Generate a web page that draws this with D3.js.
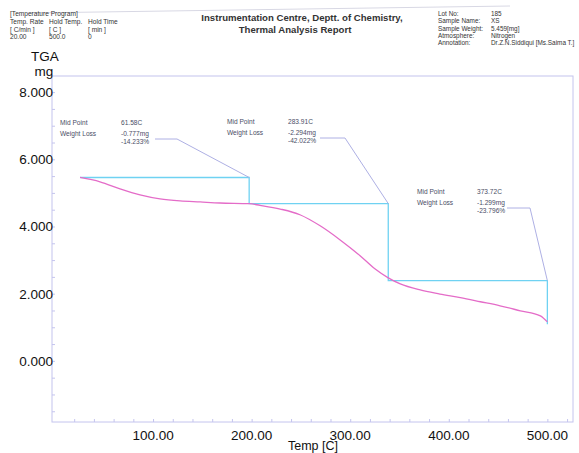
<!DOCTYPE html>
<html><head><meta charset="utf-8">
<script src="https://cdn.jsdelivr.net/npm/d3@7"></script>
<style>body{margin:0;background:#fff}svg{display:block;font-family:"Liberation Sans",Arial,sans-serif}</style>
</head><body><svg id="c" width="579" height="453"></svg>
<script>
// Data
const tempC = [26,46.2,66.5,86.8,107.1,127.4,147.7,168,197.5,208.6,229,249,269.5,289.8,310,325,338.6,350.8,371,391,411.7,432,452,472.6,492.9,500];
const massMg = [5.459,5.33,5.12,4.94,4.82,4.76,4.73,4.70,4.68,4.63,4.52,4.35,4.02,3.60,3.13,2.74,2.47,2.29,2.11,1.99,1.88,1.76,1.64,1.49,1.34,1.16];
const stepTemp = [26,197.5,338.6,500];
const stepLevel = [5.459,4.682,2.388,1.089];
const midPoints = ["61.58C","283.91C","373.72C"];
const lossMg = ["-0.777mg","-2.294mg","-1.299mg"];
const lossPct = ["-14.233%","-42.022%","-23.796%"];
const yTicks = [0,2,4,6,8];
const xTicks = [100,200,300,400,500];

const svg = d3.select("#c");
const L=52,R=573,T=76,B=422;
const x = d3.scaleLinear().domain([-2.5,526]).range([L,R]);
const y = d3.scaleLinear().domain([-1.82,8.48]).range([B,T]);
const axisCol="#c4c4ee";

// header lines
svg.append("line").attr("x1",30).attr("y1",13).attr("x2",510).attr("y2",6).attr("stroke","#d8d8e4").attr("stroke-width",1);

const hdr = svg.append("g").attr("font-size",6.6).attr("fill","#333");
hdr.append("text").attr("x",10).attr("y",16).text("[Temperature Program]");
[["Temp. Rate","Hold Temp.","Hold Time"],["[ C/min ]","[  C ]","[ min ]"],["20.00","500.0","0"]].forEach((row,i)=>{
  row.forEach((t,j)=>hdr.append("text").attr("x",[10,49,88][j]).attr("y",24+i*7.5).text(t));
});
const ttl = svg.append("g").attr("font-size",9.6).attr("font-weight","bold").attr("fill","#333").attr("text-anchor","middle");
ttl.append("text").attr("x",302).attr("y",21).text("Instrumentation Centre, Deptt. of Chemistry,");
ttl.append("text").attr("x",295).attr("y",33).text("Thermal Analysis Report");
const info = svg.append("g").attr("font-size",6.4).attr("fill","#333");
[["Lot No:","185"],["Sample Name:","XS"],["Sample Weight:","5.459[mg]"],["Atmosphere:","Nitrogen"],["Annotation:","Dr.Z.N.Siddiqui [Ms.Saima T.]"]].forEach((r,i)=>{
  info.append("text").attr("x",438).attr("y",16+i*7.3).text(r[0]);
  info.append("text").attr("x",491).attr("y",16+i*7.3).text(r[1]);
});

// frame
svg.append("rect").attr("x",L).attr("y",T).attr("width",R-L).attr("height",B-T).attr("fill","none").attr("stroke",axisCol).attr("stroke-width",1);

// axes
const yAx = svg.append("g").attr("transform",`translate(${L},0)`)
  .call(d3.axisRight(y).tickValues(d3.range(-1.5,8.5,0.5)).tickSize(3).tickFormat(""));
yAx.select(".domain").remove();
yAx.selectAll("line").attr("stroke",axisCol);
const xAx = svg.append("g").attr("transform",`translate(0,${B})`)
  .call(d3.axisTop(x).tickValues(d3.range(20,521,20)).tickSize(3).tickFormat(""));
xAx.select(".domain").remove();
xAx.selectAll("line").attr("stroke",axisCol);

svg.append("g").selectAll("text").data(yTicks).join("text")
  .attr("x",L+1).attr("y",d=>y(d)).attr("dy","0.36em").attr("text-anchor","end")
  .attr("font-size",13.5).attr("fill","#111").text(d=>d3.format(".3f")(d));
svg.append("g").selectAll("text").data(xTicks).join("text")
  .attr("x",d=>x(d)).attr("y",440).attr("text-anchor","middle")
  .attr("font-size",13.5).attr("fill","#111").text(d=>d3.format(".2f")(d));
svg.append("text").attr("x",313).attr("y",450).attr("text-anchor","middle").attr("font-size",12.5).attr("fill","#111").text("Temp  [C]");
svg.append("text").attr("x",45).attr("y",61).attr("text-anchor","middle").attr("font-size",13.5).attr("fill","#111").text("TGA");
svg.append("text").attr("x",44).attr("y",76).attr("text-anchor","middle").attr("font-size",13.5).attr("fill","#111").text("mg");

// step lines
const stepPts=[];
for(let i=0;i<stepTemp.length-1;i++){
  stepPts.push([stepTemp[i],stepLevel[i]]);
  stepPts.push([stepTemp[i+1],stepLevel[i]]);
}
stepPts.push([stepTemp[stepTemp.length-1],stepLevel[stepLevel.length-1]]);
svg.append("path").attr("d",d3.line().x(d=>x(d[0])).y(d=>y(d[1]))(stepPts))
  .attr("fill","none").attr("stroke","#6fd2f2").attr("stroke-width",1.3);

// curve
const pts = tempC.map((t,i)=>[t,massMg[i]]);
svg.append("path").attr("d",d3.line().x(d=>x(d[0])).y(d=>y(d[1])).curve(d3.curveMonotoneX)(pts))
  .attr("fill","none").attr("stroke","#e46cc8").attr("stroke-width",1.3);

// annotations
const blocks=[{lx:60,vx:121,y:125,hx:[155,177]},{lx:227,vx:288,y:124,hx:[320,345]},{lx:417,vx:477,y:194,hx:[507,530]}];
const ann = svg.append("g").attr("font-size",6.6).attr("fill","#4a4e66");
blocks.forEach((b,i)=>{
  ann.append("text").attr("x",b.lx).attr("y",b.y).text("Mid Point");
  ann.append("text").attr("x",b.vx).attr("y",b.y).text(midPoints[i]);
  ann.append("text").attr("x",b.lx).attr("y",b.y+10.5).text("Weight Loss");
  ann.append("text").attr("x",b.vx).attr("y",b.y+10.5).text(lossMg[i]);
  ann.append("text").attr("x",b.vx).attr("y",b.y+19).text(lossPct[i]);
  const ly=b.y+14;
  svg.append("polyline").attr("points",`${b.hx[0]},${ly} ${b.hx[1]},${ly} ${x(stepTemp[i+1])},${y(stepLevel[i])}`)
    .attr("fill","none").attr("stroke","#aeb0e4").attr("stroke-width",1);
});
</script></body></html>
